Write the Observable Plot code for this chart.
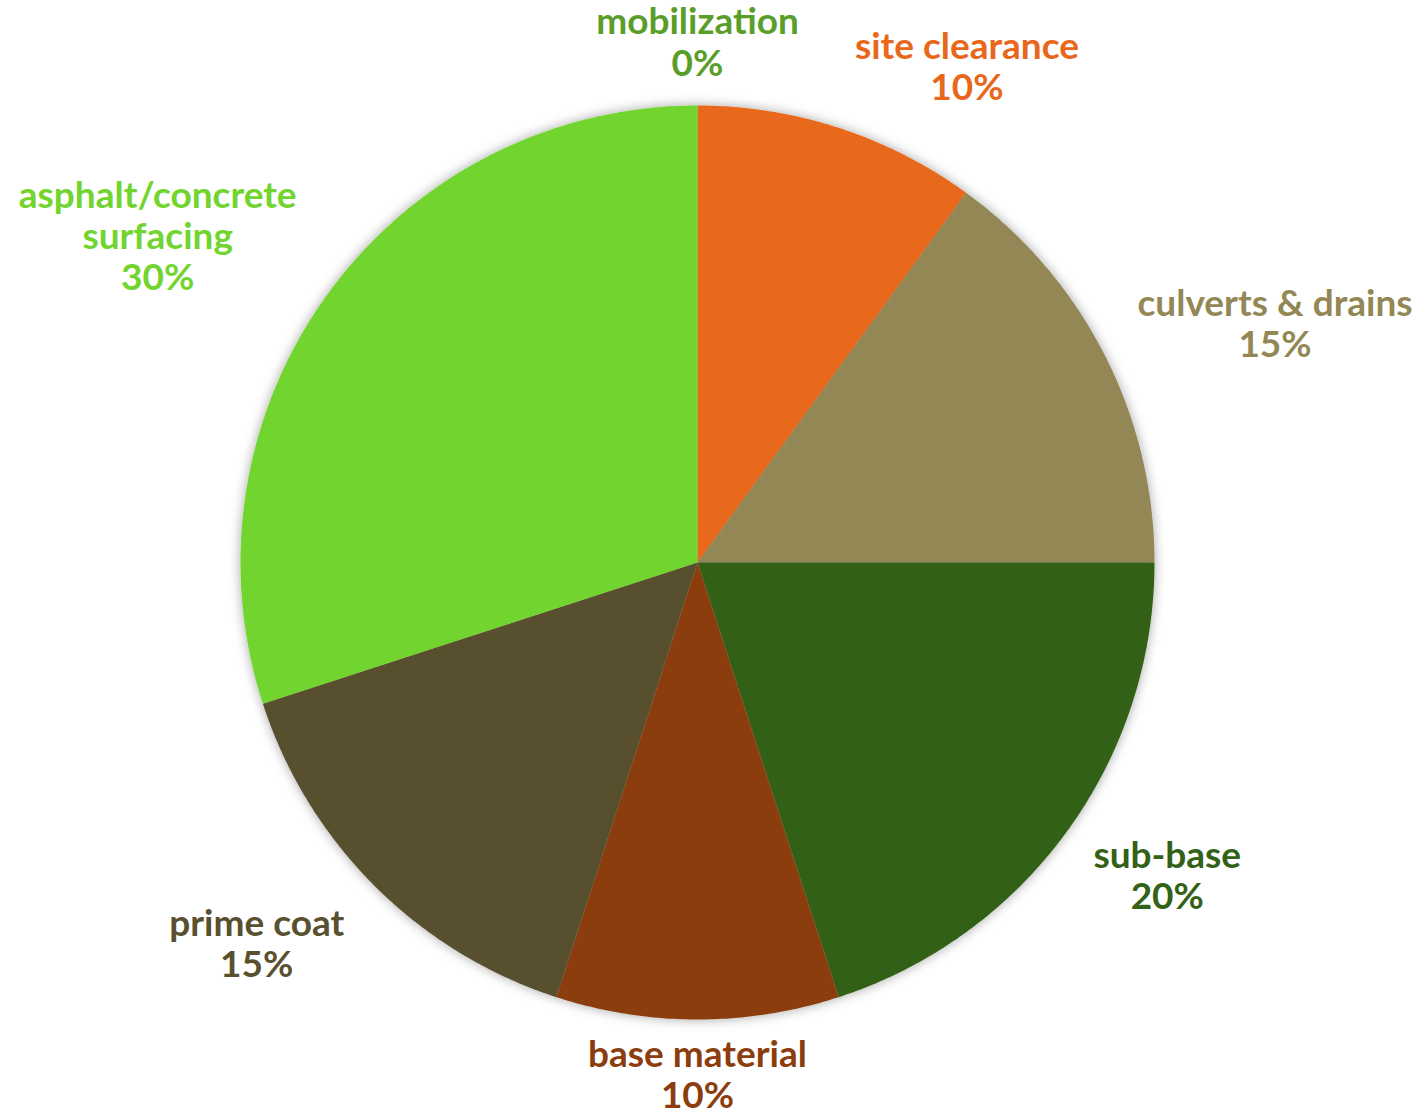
<!DOCTYPE html>
<html><head><meta charset="utf-8">
<script src="https://cdn.jsdelivr.net/npm/d3@7"></script>
<script src="https://cdn.jsdelivr.net/npm/@observablehq/plot@0.6"></script>
<style>html,body{margin:0;padding:0;background:#fff;overflow:hidden}</style>
</head><body><div id="chart"></div>
<script>
// ---- data ----
const categories = ["mobilization", "site clearance", "culverts & drains", "sub-base", "base material", "prime coat", "asphalt/concrete surfacing"];
const labelText  = ["mobilization", "site clearance", "culverts & drains", "sub-base", "base material", "prime coat", "asphalt/concrete\nsurfacing"];
const shares     = [0, 10, 15, 20, 10, 15, 30];
const colors     = ["#5a9e2a", "#e8671a", "#928755", "#336117", "#8b3d0e", "#59502f", "#72d42e"];

// ---- layout ----
const W = 1424, H = 1113, cx = 697, cy = 562, R = 457;
const FONT_SIZE = 37, FONT = "Lato";
const labelGap = 20 / R;
const labelNudge = {
  "mobilization": [0, -10],
  "site clearance": [10, -9],
  "culverts & drains": [15, 11],
  "sub-base": [10, -4],
  "base material": [0, -2],
  "prime coat": [-16, 7],
  "asphalt/concrete surfacing": [-15, 8]
};

const ctx = document.createElement("canvas").getContext("2d");
ctx.font = `700 ${FONT_SIZE}px ${FONT}`;
const blockWidth = s => Math.max(...s.split("\n").map(t => ctx.measureText(t).width));

const rows = categories.map((name, i) => ({name, label: labelText[i] + "\n" + shares[i] + "%", value: shares[i]}));
const arcs = d3.pie().sort(null).value(d => d.value)(rows);

// slice polygons (unit circle, angle clockwise from 12 o'clock)
const slicePts = [];
arcs.forEach(a => {
  if (a.endAngle - a.startAngle <= 0) return;
  const name = a.data.name;
  slicePts.push({name, x: 0, y: 0});
  const n = Math.max(2, Math.ceil((a.endAngle - a.startAngle) / (Math.PI / 360)));
  for (let k = 0; k <= n; k++) {
    const t = a.startAngle + (a.endAngle - a.startAngle) * k / n;
    slicePts.push({name, x: Math.sin(t), y: Math.cos(t)});
  }
  slicePts.push({name, x: 0, y: 0});
});

const labels = arcs.map(a => {
  const m = (a.startAngle + a.endAngle) / 2;
  const s = Math.sin(m), c = Math.cos(m);
  return {
    name: a.data.name, label: a.data.label,
    x: (1 + labelGap) * s, y: (1 + labelGap) * c,
    side: Math.abs(s) < 0.1 ? 0 : s > 0 ? 1 : -1,
    lineAnchor: Math.abs(c) < 0.1 ? "middle" : c > 0 ? "bottom" : "top"
  };
});

const textMarks = labels.map(l => {
  const [nx, ny] = labelNudge[l.name] || [0, 0];
  const w = blockWidth(l.label);
  return Plot.text([l], {
    x: "x", y: "y", text: "label", fill: "name",
    textAnchor: "middle", lineAnchor: l.lineAnchor,
    dx: l.side * w / 2 + nx, dy: ny, lineHeight: 1.11,
    fontSize: FONT_SIZE, fontWeight: 700, fontFamily: FONT
  });
});

const chart = Plot.plot({
  width: W, height: H,
  margin: 0,
  x: {domain: [-cx / R, (W - cx) / R], axis: null},
  y: {domain: [-(H - cy) / R, cy / R], axis: null},
  color: {domain: categories, range: colors},
  style: {background: "#fff", overflow: "visible"},
  marks: [
    Plot.line(slicePts, {x: "x", y: "y", z: "name", fill: "name", stroke: null, curve: "linear"}),
    ...textMarks
  ]
});

// soft shadow around the pie
const svg = d3.select(chart);
const defs = svg.insert("defs", ":first-child");
const f = defs.append("filter").attr("id", "pieShadow").attr("x", "-10%").attr("y", "-10%").attr("width", "120%").attr("height", "120%");
f.append("feDropShadow").attr("dx", 0).attr("dy", 0).attr("stdDeviation", 6).attr("flood-color", "#000").attr("flood-opacity", 0.35);
svg.select('g[aria-label="line"]').attr("filter", "url(#pieShadow)");

document.getElementById("chart").appendChild(chart);
</script>
</body></html>
